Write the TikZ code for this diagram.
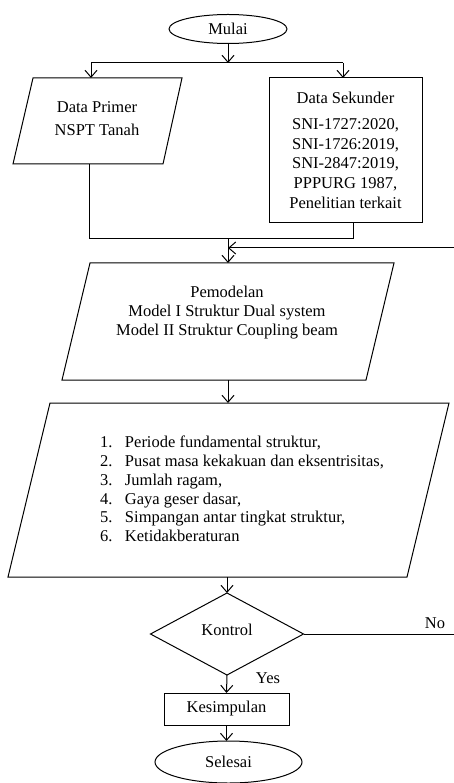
\documentclass[tikz,border=0pt]{standalone}
\usepackage{fontspec}
\setmainfont{Liberation Serif}
\usetikzlibrary{shapes.geometric,arrows.meta}
\begin{document}
\begin{tikzpicture}[x=1pt,y=-1pt,
  every node/.style={inner sep=0pt,outer sep=0pt},
  line/.style={line width=1pt,line join=miter},
  arr/.style={line,-{Straight Barb[length=7pt,width=12pt,line width=1pt]}},
  txt/.style={font=\fontsize{16.5}{19.7}\selectfont,align=center},
  oval/.style={ellipse,draw,line width=1pt},
  box/.style={rectangle,draw,line width=1pt},
  decision/.style={diamond,draw,line width=1pt,inner sep=1pt}
]
\useasboundingbox (0,0) rectangle (454,783);

% shapes and texts
\node[oval,txt,minimum width=118pt,minimum height=29pt] (mulai) at (228,29) {Mulai};

\draw[line] (33,78) coordinate (primer-nw) -- (182,78) -- (163,164) -- (13,164) -- cycle;
\node[txt] (primer) at (97,118.5) {Data Primer\\[3.5pt]NSPT Tanah};

\node[box,txt,minimum width=153pt,minimum height=145pt] (sekunder) at (345.5,150.5) {Data Sekunder\\[6pt]SNI-1727:2020,\\SNI-1726:2019,\\SNI-2847:2019,\\PPPURG 1987,\\Penelitian terkait};

\draw[line] (90,263) -- (394,263) -- (366,380) -- (62,380) -- cycle;
\node[txt,font=\fontsize{16.5}{19}\selectfont] (model) at (227,313) {Pemodelan\\Model I Struktur Dual system\\Model II Struktur Coupling beam};

\draw[line] (50,403) -- (449,403) -- (407,577) -- (8,577) -- cycle;
\node[txt,align=left,anchor=west,font=\fontsize{16.5}{18.7}\selectfont] (analisis) at (100,489) {\makebox[25pt][l]{1.}Periode fundamental struktur,\\
\makebox[25pt][l]{2.}Pusat masa kekakuan dan eksentrisitas,\\
\makebox[25pt][l]{3.}Jumlah ragam,\\
\makebox[25pt][l]{4.}Gaya geser dasar,\\
\makebox[25pt][l]{5.}Simpangan antar tingkat struktur,\\
\makebox[25pt][l]{6.}Ketidakberaturan};

\node[decision,minimum width=153pt,minimum height=82pt] (kontrol) at (227,634) {};
\node[txt] (tkontrol) at (227,630) {Kontrol};
\node[box,txt,minimum width=125pt,minimum height=32pt] (kesimpulan) at (226.5,709) {Kesimpulan};
\node[oval,txt,minimum width=147pt,minimum height=42pt] (selesai) at (228.5,762) {Selesai};
\node[txt] (no) at (435,623) {No};
\node[txt] (yes) at (268,678) {Yes};

% connection points on the parallelograms
\coordinate (primer-n) at (91,78);
\coordinate (primer-s) at (89,164);
\coordinate (model-n) at (228,263);
\coordinate (model-s) at (228,380);
\coordinate (analisis-n) at (228,403);
\coordinate (analisis-s) at (227,577);

% connectors
\coordinate (split) at (228,63);
\coordinate (sl) at (91,63);
\coordinate (sr) at (343,63);
\draw[arr] (mulai.south) -- (split);
\draw[line] (sl) -- (sr);
\draw[arr] (sl) -- (primer-n);
\draw[arr] (sr) -- (sr |- sekunder.north);

\coordinate (jl) at (89,239);
\coordinate (jr) at (353,239);
\coordinate (join) at (228,239);
\draw[line] (primer-s) -- (jl) -- (jr) -- (jr |- sekunder.south);
\draw[arr] (join) -- (model-n);
\coordinate (fbin) at (454,248);
\draw[arr] (fbin) -- (fbin -| join);

\draw[arr] (model-s) -- (analisis-n);
\draw[arr] (analisis-s) -- (kontrol.north);
\coordinate (noend) at (454,634);
\draw[line] (kontrol.east) -- (noend);
\draw[arr] (kontrol.south) -- (kesimpulan.north);
\draw[arr] (kesimpulan.south) -- (kesimpulan.south |- selesai.north);
\end{tikzpicture}
\end{document}
